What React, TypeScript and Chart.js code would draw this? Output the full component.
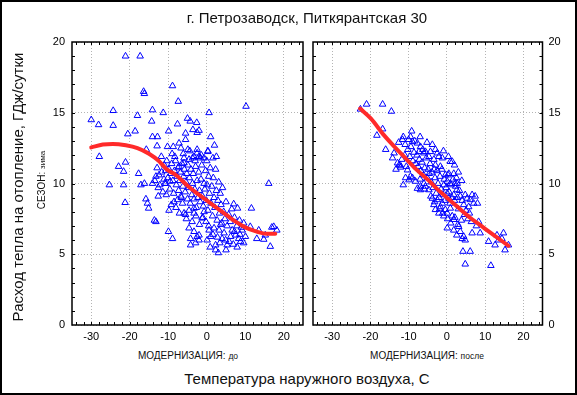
import React, { useEffect, useRef } from "react";
import { Chart, registerables } from "chart.js";
Chart.register(...registerables);

// ---------- data ----------
const X_TICKS = [-30, -20, -10, 0, 10, 20];
const Y_TICKS = [0, 5, 10, 15, 20];
const X_MINOR = [-34, -32, -30, -28, -26, -24, -22, -20, -18, -16, -14, -12, -10, -8, -6, -4, -2, 0, 2, 4, 6, 8, 10, 12, 14, 16, 18, 20, 22, 24];
const Y_MINOR = [1, 2, 3, 4, 5, 6, 7, 8, 9, 10, 11, 12, 13, 14, 15, 16, 17, 18, 19];

const TITLE = "г. Петрозаводск, Питкярантская 30";
const Y_TITLE = "Расход тепла на отопление, ГДж/сутки";
const X_TITLE = "Температура наружного воздуха, С";
const SEASON = ["СЕЗОН:", "зима"];
const PANEL_LABELS = [["МОДЕРНИЗАЦИЯ:", "до"], ["МОДЕРНИЗАЦИЯ:", "после"]];

// before modernization: [temperature, heat]
const beforePoints: [number, number][] = [
  [-21.1, 19.0], [-17.3, 19.0], [-8.9, 16.9], [-16.4, 16.5], [-16.2, 16.35], [-7.4, 15.8], [10.2, 15.45],
  [-24.3, 15.15], [-14.1, 15.2], [-11.3, 15.0], [0.6, 15.0], [-30, 14.5], [-28.1, 14.15], [-24.3, 14.1],
  [-18, 14.8], [-14.3, 14.4], [-7.6, 14.2], [-5, 14.6], [-4.3, 14.4], [-2.6, 14.3], [-3.6, 13.8], [-2, 13.75],
  [-2.5, 13.6], [-20.5, 13.5], [-18.6, 13.7], [-9.9, 13.7], [-5.5, 13.55], [1.0, 13.3], [-14.1, 13.3],
  [-12.8, 13.3], [-5.5, 13.1], [-12.9, 12.65], [-8.7, 12.6], [-7.2, 12.85], [-6.7, 12.5], [-4.9, 12.4],
  [-2.5, 12.4], [0.3, 12.3], [2.0, 12.7], [-15.7, 12.4], [-27.9, 11.9], [-11.8, 11.9], [-8.3, 11.9],
  [-5.9, 11.8], [-3.7, 11.8], [-2, 11.9], [-1.6, 11.8],
  [-22.9, 11.2], [-21.6, 10.85], [-21.1, 11.5], [-25.3, 9.9], [-21.6, 9.9], [-17.7, 10.7], [-17.1, 9.9], [16.1, 10.0],
  [-21.2, 8.65], [-15.8, 8.9], [-15.4, 8.6], [-15.1, 8.25], [-13.6, 7.4], [-13.2, 7.3], [-9.8, 8.1], [-9.95, 6.6], [-8.9, 6.1],
  [-16.2, 10.0], [-14.1, 10.0], [-13.2, 10.5], [-12.4, 10.6], [-11.1, 10.3], [-10.6, 10.0], [-9.5, 10.15], [-12.6, 9.7], [-12.6, 9.1],
  [-7.2, 11.2], [-5.9, 11.45], [-4.6, 11.7], [-3.3, 11.9], [-2.5, 12.15], [-0.7, 11.8], [0.3, 12.25],
  [-8.5, 8.7], [-7.6, 8.85], [-6.7, 9.1], [-5.9, 7.9], [-5.5, 7.8], [-3.3, 7.9], [-3.3, 8.25], [-1.2, 7.55], [-0.7, 8.0],
  [-4.6, 6.85], [-3.3, 6.6], [-2.5, 6.25], [-2, 6.35], [-4.2, 6.1], [-2, 6.0], [-4.2, 5.65], [-2.9, 5.8],
  [0.1, 6.0], [1.0, 6.25], [2.3, 5.65], [2.3, 5.3], [0.6, 6.7], [1.9, 6.85], [3.2, 6.7], [3.6, 7.1],
  [4.0, 6.1], [4.9, 6.0], [5.3, 5.65], [6.2, 6.25], [6.6, 6.7], [7.5, 6.35], [8.3, 6.1], [7.9, 5.5], [8.8, 5.9],
  [10.05, 6.25], [9.2, 6.7], [11.3, 6.95], [9.6, 7.2], [7.0, 8.55], [8.0, 8.25], [11.6, 8.25],
  [13.0, 6.1], [14.8, 6.05], [16.5, 5.55], [17.4, 6.95], [18.2, 6.7], [15.2, 6.35], [13.5, 6.7], [16.9, 6.9],
  [-11.0, 11.3], [-10.7, 10.9], [-10.4, 11.6], [-10.1, 10.4], [-9.8, 11.0], [-9.6, 9.6], [-9.3, 10.7], [-9.1, 11.4],
  [-8.8, 10.2], [-8.6, 9.3], [-8.4, 10.9], [-8.1, 11.6], [-7.9, 9.9], [-7.7, 10.5], [-7.5, 11.1], [-7.3, 9.5],
  [-7.0, 10.2], [-6.8, 10.8], [-6.6, 9.0], [-6.4, 11.4], [-6.2, 9.8], [-6.0, 10.5], [-5.8, 11.0], [-5.6, 9.4],
  [-5.4, 10.1], [-5.2, 10.7], [-5.0, 8.9], [-4.9, 11.3],
  [-4.7, 9.7], [-4.5, 10.4], [-4.3, 8.6], [-4.1, 11.0], [-3.9, 9.2], [-3.7, 10.0], [-3.5, 10.7], [-3.3, 8.9],
  [-3.1, 9.6], [-2.9, 11.2], [-2.7, 8.3], [-2.5, 10.2], [-2.3, 9.0], [-2.1, 10.8], [-1.9, 9.5], [-1.7, 8.7],
  [-1.5, 10.3], [-1.3, 11.3], [-1.1, 9.1], [-0.9, 8.4], [-0.7, 10.0], [-0.5, 9.6], [-0.3, 10.9], [-0.1, 8.8],
  [0.1, 9.9], [0.3, 8.1], [0.5, 10.5], [0.7, 9.3], [0.9, 11.1], [1.1, 8.6],
  [1.3, 9.8], [1.5, 7.7], [1.7, 10.4], [1.9, 9.0], [2.1, 8.3], [2.3, 11.0], [2.5, 9.5], [2.7, 7.4], [2.9, 8.8],
  [3.1, 10.1], [3.3, 7.9], [3.5, 9.3], [3.7, 8.5], [3.9, 7.2], [4.1, 9.7], [4.4, 8.0], [4.7, 7.5], [5.0, 8.7],
  [5.3, 7.0], [5.7, 7.8], [6.1, 7.3], [6.5, 8.2], [7.2, 7.6], [7.8, 7.0], [8.5, 7.4], [9.0, 6.9],
  [-9.2, 8.5], [-8.0, 8.3], [-7.1, 7.9], [-6.3, 8.6], [-5.3, 7.5], [-4.6, 8.1], [-3.8, 7.3], [-2.8, 7.7],
  [-1.9, 7.1], [-1.0, 7.6], [-0.2, 7.3], [0.5, 7.0],
  [-13.5, 10.2], [-12.9, 11.1], [-12.2, 9.9], [-11.7, 10.8], [-11.4, 9.4], [-10.9, 10.0], [-10.5, 9.2],
  [-6.1, 12.1], [-4.4, 12.3], [-3.0, 11.6], [-1.4, 12.0], [0.0, 11.6], [1.6, 11.8], [2.5, 11.9], [-9.0, 12.1], [-10.2, 12.6],
  [0.9, 5.5], [1.6, 6.4], [2.8, 6.2], [3.4, 5.8], [4.5, 6.5], [5.8, 5.9], [6.9, 5.7], [7.2, 6.6], [8.6, 6.4],
  [9.6, 5.8], [3.0, 5.1], [5.0, 5.3],
];

const beforeCurve: [number, number][] = [
  [-30, 12.55], [-27, 12.75], [-24.4, 12.8], [-21, 12.7], [-18, 12.5], [-15, 12.1], [-12.5, 11.6], [-10.4, 11.0],
  [-8, 10.6], [-5.2, 9.9], [-2.5, 9.3], [0, 8.8], [2.5, 8.3], [5, 7.8], [7.5, 7.3], [10, 6.9], [13, 6.6],
  [15.5, 6.45], [17.8, 6.45],
];

// after modernization
const afterPoints: [number, number][] = [
  [-22.6, 15.25], [-21, 15.6], [-16.8, 15.6], [-14.5, 15.1], [-16.8, 13.85], [-18.3, 13.4], [-16, 12.4],
  [-13.8, 12.15], [-14.2, 11.8], [-12.9, 11.45], [-12.2, 11.3], [-6.9, 12.6], [-5.6, 12.25], [-4.7, 11.9],
  [-3.8, 12.75], [-2.5, 12.15], [-2.1, 11.9], [1.4, 11.55], [-10.3, 10.95], [-9.5, 10.5], [-10.8, 10.4],
  [1.8, 10.7], [2.7, 10.0], [-12.5, 11.3], [-12.1, 11.15],
  [-11.4, 13.3], [-11.6, 13.1], [-10.9, 12.75], [-9.2, 13.7], [-9.5, 13.3], [-9.0, 12.95], [-7.7, 12.85],
  [-7.3, 12.25], [-6.0, 12.15], [-4.3, 12.25], [-3.4, 11.7], [-1.2, 11.8], [-3.0, 11.3], [-1.7, 11.2],
  [0.9, 11.55], [0.5, 10.7], [2.5, 10.4], [-0.4, 10.6], [2.2, 10.0], [0.1, 10.15],
  [-9.0, 10.4], [-9.9, 10.25], [-11.4, 9.9], [-6.9, 9.8], [-6.0, 10.0], [-5.6, 9.8],
  [-8.2, 10.15], [-7.7, 9.65], [-6.9, 9.55], [-4.7, 9.55],
  [-3.8, 8.95], [-3.4, 8.5], [-3.0, 8.15], [-2.5, 8.85], [-2.1, 7.9], [-1.7, 8.35], [-1.2, 8.6], [-0.4, 8.15],
  [-0.8, 7.7], [0.1, 7.9], [0.9, 8.25], [1.4, 7.7], [1.8, 7.45], [0.5, 8.95], [0.1, 9.3], [-0.8, 9.9],
  [0.9, 10.0], [2.6, 9.55], [1.8, 9.2],
  [3.5, 9.1], [4.8, 9.2], [5.3, 8.95], [6.1, 8.85], [6.6, 9.2], [7.4, 9.1], [7.0, 8.6], [5.7, 8.35], [4.4, 8.5],
  [0.1, 6.85], [1.8, 6.7], [3.1, 6.95], [3.5, 6.6], [2.6, 6.35], [4.0, 6.1], [4.8, 6.0], [4.4, 6.25],
  [6.6, 6.5], [8.7, 6.5], [8.3, 7.3], [4.2, 5.2], [6.1, 5.2], [4.8, 4.3],
  [10.9, 5.9], [12.6, 5.65], [13.5, 6.0], [14.8, 6.5], [14.4, 6.1], [15.2, 5.3], [13.1, 6.35], [11.5, 4.2], [16.1, 5.65],
  [-10.2, 12.4], [-9.7, 11.9], [-9.4, 12.6], [-8.9, 11.6], [-8.6, 12.2], [-8.4, 13.0], [-8.1, 11.4], [-7.8, 12.0],
  [-7.5, 11.2], [-7.2, 11.7], [-6.8, 10.9], [-6.5, 11.5], [-6.3, 12.4], [-6.1, 10.6], [-5.8, 11.1], [-5.4, 11.8],
  [-5.1, 10.4], [-4.9, 11.0], [-4.6, 10.7], [-4.4, 11.4], [-4.1, 10.1], [-3.9, 10.8], [-3.6, 9.7], [-3.3, 11.0],
  [-3.1, 10.4], [-2.8, 9.3], [-2.6, 10.9], [-2.3, 10.0], [-2.0, 9.0], [-1.8, 10.5], [-1.5, 9.6], [-1.3, 11.0],
  [-1.0, 9.2], [-0.7, 10.3], [-0.5, 8.8], [-0.2, 9.7], [0.3, 10.6], [0.6, 9.4], [0.8, 8.6], [1.1, 9.9],
  [1.3, 9.0], [1.6, 10.3], [2.0, 8.8], [2.3, 9.8], [2.8, 9.0], [3.0, 8.2], [3.3, 9.5], [4.0, 8.8], [4.6, 7.8],
  [5.0, 8.1], [5.5, 7.5], [5.9, 7.9], [6.4, 7.3], [7.7, 7.0], [8.0, 8.6], [-7.0, 10.3], [-5.9, 9.6], [-4.2, 9.1],
  [-3.2, 8.7], [-1.9, 8.2], [-1.1, 7.9], [0.2, 7.5], [1.0, 7.2], [2.1, 7.6], [2.9, 7.1], [3.8, 7.4],
  [-11.8, 11.7], [-10.6, 11.2], [-12.6, 12.9], [-10.0, 13.1], [-7.0, 13.3], [-5.2, 12.9], [-3.0, 12.4],
  [-0.9, 12.3], [0.4, 11.9], [2.0, 11.3], [3.0, 10.8], [3.9, 10.2], [-13.3, 11.0], [-11.0, 12.0],
];

const afterCurve: [number, number][] = [
  [-22.7, 15.3], [-19.9, 14.6], [-16.4, 13.4], [-13, 12.4], [-11.2, 11.9], [-8, 11.0], [-4.7, 10.2],
  [-2.5, 9.6], [0, 9.0], [3, 8.3], [6, 7.6], [9, 7.0], [12, 6.4], [16.1, 5.6],
];

// ---------- styles ----------
const FONT = '"Liberation Sans", Arial, sans-serif';
const MARKER = "#0000ff";
const CURVE = "#ff2a2a";
const GRID = "#b4b4b4";

const framePlugin = {
  id: "frameTicks",
  afterDraw(chart: any) {
    const { ctx, chartArea: a, scales } = chart;
    ctx.save();
    ctx.strokeStyle = "#000";
    ctx.lineWidth = 1;
    ctx.beginPath();
    for (const v of X_MINOR) {
      const px = Math.round(scales.x.getPixelForValue(v)) + 0.5;
      ctx.moveTo(px, a.bottom);
      ctx.lineTo(px, a.bottom - 3);
      ctx.moveTo(px, a.top);
      ctx.lineTo(px, a.top + 3);
    }
    for (const v of Y_MINOR) {
      const py = Math.round(scales.y.getPixelForValue(v)) + 0.5;
      ctx.moveTo(a.left, py);
      ctx.lineTo(a.left + 3, py);
      ctx.moveTo(a.right, py);
      ctx.lineTo(a.right - 3, py);
    }
    ctx.stroke();
    ctx.lineWidth = 1.5;
    ctx.strokeRect(a.left, a.top, a.right - a.left, a.bottom - a.top);
    ctx.restore();
  },
};

function makeConfig(points: [number, number][], curve: [number, number][], side: "left" | "right"): any {
  return {
    type: "scatter",
    data: {
      datasets: [
        {
          data: curve.map(([x, y]) => ({ x, y })),
          showLine: true,
          borderColor: CURVE,
          borderWidth: 4,
          pointRadius: 0,
          cubicInterpolationMode: "monotone",
          borderCapStyle: "round",
          order: 0,
        },
        {
          data: points.map(([x, y]) => ({ x, y })),
          showLine: false,
          pointStyle: "triangle",
          pointRadius: 3.8,
          borderColor: MARKER,
          backgroundColor: "rgba(255,255,255,0)",
          borderWidth: 1,
          order: 1,
        },
      ],
    },
    options: {
      responsive: false,
      maintainAspectRatio: false,
      animation: false,
      events: [],
      layout: {
        padding: side === "left" ? { top: 42, right: 4, left: 0, bottom: 0 } : { top: 42, right: 0, left: 3.5, bottom: 0 },
      },
      plugins: { legend: { display: false }, tooltip: { enabled: false }, title: { display: false } },
      scales: {
        x: {
          type: "linear",
          min: -35,
          max: 25,
          afterBuildTicks: (s: any) => {
            s.ticks = X_TICKS.map((v) => ({ value: v }));
          },
          afterFit: (s: any) => {
            s.height = 25;
          },
          grid: { color: GRID, drawTicks: false, lineWidth: 1 },
          border: { display: false, dash: [1, 2] },
          ticks: { font: { family: FONT, size: 11 }, color: "#000", padding: 5, maxRotation: 0, autoSkip: false },
        },
        y: {
          type: "linear",
          position: side,
          min: 0,
          max: 20,
          afterBuildTicks: (s: any) => {
            s.ticks = Y_TICKS.map((v) => ({ value: v }));
          },
          afterFit: (s: any) => {
            s.width = side === "left" ? 72 : 34.5;
          },
          grid: { color: GRID, drawTicks: false, lineWidth: 1 },
          border: { display: false, dash: [1, 2] },
          ticks: { font: { family: FONT, size: 11 }, color: "#000", padding: side === "left" ? 7 : 6, autoSkip: false },
        },
      },
    },
    plugins: [framePlugin],
  };
}

const txt = (extra: React.CSSProperties): React.CSSProperties => ({
  position: "absolute",
  whiteSpace: "nowrap",
  fontFamily: FONT,
  color: "#111",
  lineHeight: 1,
  ...extra,
});

export default function App() {
  const leftRef = useRef<HTMLCanvasElement>(null);
  const rightRef = useRef<HTMLCanvasElement>(null);

  useEffect(() => {
    const c1 = new Chart(leftRef.current as HTMLCanvasElement, makeConfig(beforePoints, beforeCurve, "left"));
    const c2 = new Chart(rightRef.current as HTMLCanvasElement, makeConfig(afterPoints, afterCurve, "right"));
    return () => {
      c1.destroy();
      c2.destroy();
    };
  }, []);

  return (
    <div style={{ position: "absolute", left: 0, top: 0, width: 577, height: 395, background: "#fff", overflow: "hidden" }}>
      <canvas ref={leftRef} width={308} height={350} style={{ position: "absolute", left: 0, top: 0, width: 308, height: 350 }} />
      <canvas ref={rightRef} width={269} height={350} style={{ position: "absolute", left: 308, top: 0, width: 269, height: 350 }} />
      <div style={txt({ left: 307, top: 10, fontSize: 15, transform: "translateX(-50%)" })}>{TITLE}</div>
      <div style={txt({ left: 17, top: 187, fontSize: 15, transform: "translate(-50%,-50%) rotate(-90deg)" })}>{Y_TITLE}</div>
      <div style={txt({ left: 42, top: 180, fontSize: 10, transform: "translate(-50%,-50%) rotate(-90deg)" })}>
        {SEASON[0]} <span style={{ fontSize: 8 }}>{SEASON[1]}</span>
      </div>
      <div style={txt({ left: 188, top: 351, fontSize: 10, transform: "translateX(-50%)" })}>
        {PANEL_LABELS[0][0]} <span style={{ fontSize: 8.5 }}>{PANEL_LABELS[0][1]}</span>
      </div>
      <div style={txt({ left: 427, top: 351, fontSize: 10, transform: "translateX(-50%)" })}>
        {PANEL_LABELS[1][0]} <span style={{ fontSize: 8.5 }}>{PANEL_LABELS[1][1]}</span>
      </div>
      <div style={txt({ left: 307, top: 371, fontSize: 15, transform: "translateX(-50%)" })}>{X_TITLE}</div>
      <div style={{ position: "absolute", left: 0, top: 0, width: 577, height: 395, boxSizing: "border-box", border: "2px solid #000", pointerEvents: "none" }} />
    </div>
  );
}
